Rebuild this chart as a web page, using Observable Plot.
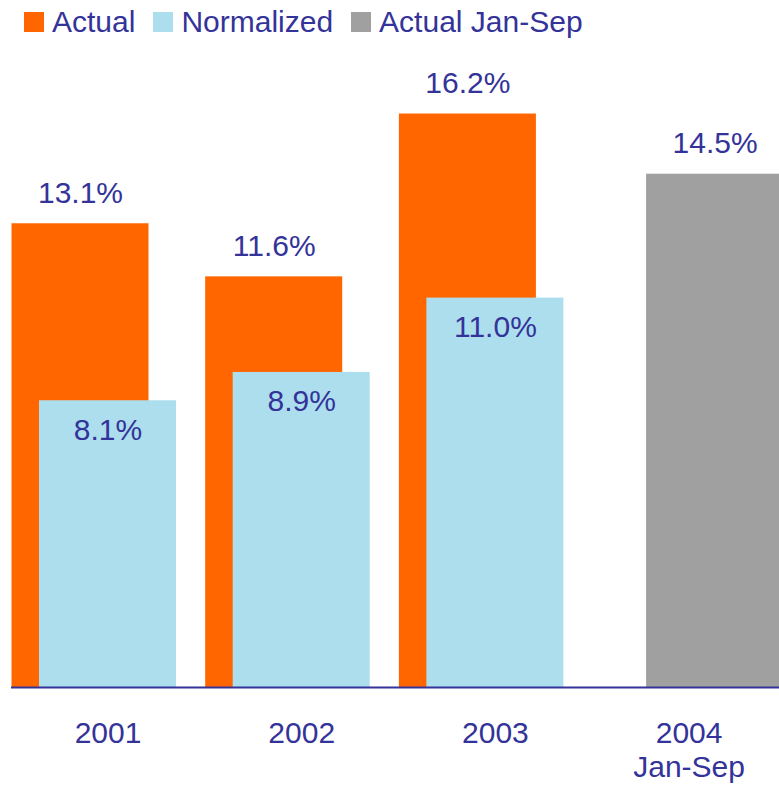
<!DOCTYPE html>
<html>
<head>
<meta charset="utf-8">
<script src="https://cdn.jsdelivr.net/npm/d3@7"></script>
<script src="https://cdn.jsdelivr.net/npm/@observablehq/plot@0.6"></script>
<style>
  html, body { margin: 0; padding: 0; background: white; overflow: hidden; }
  body { width: 779px; height: 786px; font-family: "Liberation Sans", Arial, sans-serif; }
  #legend { height: 44px; box-sizing: border-box; padding: 7px 0 0 24px; font-size: 30px; line-height: 30px; color: #333399; white-space: nowrap; }
  #legend .sw { display: inline-block; width: 20px; height: 20px; margin-right: 8px; vertical-align: baseline; }
  #legend .item { margin-right: 18px; }
</style>
</head>
<body>
<div id="legend"></div>
<div id="chart"></div>
<script>
// ---- data ----
const years = ["2001", "2002", "2003", "2004"];
const tickLabels = ["2001", "2002", "2003", "2004\nJan-Sep"];
const actual = [13.1, 11.6, 16.2, null];
const normalized = [8.1, 8.9, 11.0, null];
const actualJanSep = [null, null, null, 14.5];
const seriesNames = ["Actual", "Normalized", "Actual Jan-Sep"];
const seriesColors = ["#FF6600", "#ADDEEE", "#A0A0A0"];
const textColor = "#333399";

// ---- legend ----
const legend = document.getElementById("legend");
seriesNames.forEach((name, i) => {
  const item = document.createElement("span");
  item.className = "item";
  const sw = document.createElement("span");
  sw.className = "sw";
  sw.style.background = seriesColors[i];
  item.appendChild(sw);
  item.appendChild(document.createTextNode(name));
  legend.appendChild(item);
});

// ---- tables ----
const toRows = (arr) => years.map((y, i) => ({year: y, value: arr[i]})).filter(d => d.value != null);
const actualRows = toRows(actual);
const normRows = toRows(normalized);
const janSepRows = toRows(actualJanSep);
const tickRows = years.map((y, i) => ({year: y, label: tickLabels[i]}));
const fmt = d => d.value.toFixed(1) + "%";

const chart = Plot.plot({
  width: 779,
  height: 742,
  marginTop: 0,
  marginBottom: 99,
  marginLeft: 11,
  marginRight: 0,
  x: {type: "band", domain: years, range: [39, 757.1], paddingInner: 0.2927, paddingOuter: 0, align: 0.5, round: false, axis: null},
  y: {domain: [0, 643 / 35.4], axis: null},
  style: {fontFamily: "'Liberation Sans', Arial, sans-serif", background: "white", overflow: "hidden"},
  marks: [
    Plot.barY(actualRows, {x: "year", y: "value", fill: seriesColors[0], dx: -27.5}),
    Plot.barY(normRows, {x: "year", y: "value", fill: seriesColors[1]}),
    Plot.barY(janSepRows, {x: "year", y: "value", fill: seriesColors[2], dx: 26}),
    Plot.text(actualRows, {x: "year", y: "value", text: fmt, dx: -27.5, dy: -21, lineAnchor: "bottom", fontSize: 30, fill: textColor}),
    Plot.text(normRows, {x: "year", y: "value", text: fmt, dy: 39, lineAnchor: "bottom", fontSize: 30, fill: textColor}),
    Plot.text(janSepRows, {x: "year", y: "value", text: fmt, dx: 26, dy: -21, lineAnchor: "bottom", fontSize: 30, fill: textColor}),
    Plot.ruleY([0], {stroke: textColor, strokeWidth: 2}),
    Plot.text(tickRows, {x: "year", y: () => 0, text: "label", dy: 31, lineAnchor: "top", lineHeight: 1.15, fontSize: 30, fill: textColor})
  ]
});
document.getElementById("chart").appendChild(chart);
</script>
</body>
</html>
